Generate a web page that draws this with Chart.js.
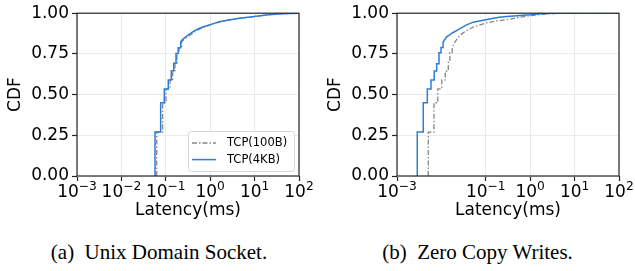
<!DOCTYPE html>
<html>
<head>
<meta charset="utf-8">
<script src="https://cdn.jsdelivr.net/npm/chart.js@4.4.0/dist/chart.umd.min.js"></script>
<style>
body{margin:0;background:#fff;width:635px;height:271px;overflow:hidden;position:relative;}
canvas{position:absolute;top:0;}
.cap{position:absolute;top:240px;font-family:"Liberation Serif",serif;font-size:21px;text-align:center;white-space:nowrap;}
</style>
</head>
<body>
<canvas id="c1" width="318" height="232" style="left:0"></canvas>
<canvas id="c2" width="315" height="232" style="left:320px"></canvas>
<div class="cap" style="left:0;width:318px">(a)&nbsp; Unix Domain Socket.</div>
<div class="cap" style="left:320px;width:315px">(b)&nbsp; Zero Copy Writes.</div>
<script>
// ticks
var yTicks = [0, 0.25, 0.5, 0.75, 1];
var xTickValues = [0.001, 0.01, 0.1, 1, 10, 100];
var xTickExponents = ['\u22123', '\u22122', '\u22121', '0', '1', '2'];
var xTicksUnix = [0.001, 0.01, 0.1, 1, 10, 100];
var xTicksZero = [0.001, 0.1, 1, 10, 100];
var seriesNames = ['TCP(100B)', 'TCP(4KB)'];

// (a) unix domain socket - step part then tail of the CDF (latency ms, cdf)
var unix100StepLat = [0.0624, 0.085, 0.101, 0.124, 0.143, 0.161, 0.179, 0.2, 0.228];
var unix100StepCdf = [0.27, 0.45, 0.535, 0.59, 0.647, 0.693, 0.753, 0.788, 0.824];
var unix100TailLat = [0.26, 0.29, 0.33, 0.42, 0.55, 0.75, 1.0, 1.7, 3, 5, 8, 10, 20, 40, 100];
var unix100TailCdf = [0.84, 0.85, 0.86, 0.88, 0.9, 0.915, 0.928, 0.948, 0.96, 0.97, 0.976, 0.98, 0.99, 0.997, 1.0];

var unix4kStepLat = [0.0571, 0.0767, 0.0925, 0.1137, 0.133, 0.151, 0.17, 0.19, 0.217];
var unix4kStepCdf = [0.27, 0.45, 0.535, 0.59, 0.647, 0.693, 0.753, 0.788, 0.824];
var unix4kTailLat = [0.24, 0.27, 0.295, 0.38, 0.5, 0.7, 1.0, 1.6, 2.8, 5, 7.9, 10, 20, 40, 100];
var unix4kTailCdf = [0.84, 0.85, 0.86, 0.88, 0.9, 0.917, 0.93, 0.948, 0.96, 0.97, 0.976, 0.98, 0.99, 0.997, 1.0];

// (b) zero copy writes
var zero100StepLat = [0.00507, 0.0068, 0.0083, 0.0102, 0.0122, 0.0143, 0.0155, 0.0175];
var zero100StepCdf = [0.27, 0.45, 0.535, 0.59, 0.645, 0.70, 0.757, 0.79];
var zero100TailLat = [0.0202, 0.0263, 0.035, 0.0525, 0.1, 0.18, 0.295, 0.5, 1.0, 1.7, 2.8, 5, 100];
var zero100TailCdf = [0.824, 0.865, 0.89, 0.915, 0.94, 0.953, 0.96, 0.972, 0.985, 0.992, 0.996, 1.0, 1.0];

var zero4kStepLat = [0.00286, 0.0039, 0.00482, 0.00583, 0.0069, 0.00783, 0.00883, 0.0098, 0.0109];
var zero4kStepCdf = [0.27, 0.45, 0.535, 0.59, 0.645, 0.69, 0.757, 0.79, 0.82];
var zero4kTailLat = [0.012, 0.0132, 0.018, 0.0263, 0.035, 0.052, 0.1, 0.2, 0.295, 0.5, 1.0, 1.66, 3, 100];
var zero4kTailCdf = [0.84, 0.855, 0.88, 0.905, 0.925, 0.945, 0.96, 0.975, 0.98, 0.985, 0.99, 0.997, 1.0, 1.0];

var GRAY = '#878787';
var BLUE = '#2e7dd5';
var FONT = 'DejaVu Sans';
var FSIZE = 17;

function cdfPoints(stepLat, stepCdf, tailLat, tailCdf){
	var pts = [];
	var prev = 0;
	for(var i = 0; i < stepLat.length; i++){
		pts.push({x: stepLat[i], y: prev});
		pts.push({x: stepLat[i], y: stepCdf[i]});
		prev = stepCdf[i];
	}
	for(var j = 0; j < tailLat.length; j++){
		pts.push({x: tailLat[j], y: tailCdf[j]});
	}
	return pts;
}

// frame round the plot area
var framePlugin = {
	id: 'frame',
	afterDatasetsDraw: function(chart){
		var a = chart.chartArea, ctx = chart.ctx;
		ctx.save();
		ctx.strokeStyle = '#262626';
		ctx.lineWidth = 1.2;
		ctx.strokeRect(a.left, a.top, a.right - a.left, a.bottom - a.top);
		ctx.restore();
	}
};

// 10^n labels under the log axis (base + raised exponent)
var powerLabels = {
	id: 'powerLabels',
	afterDraw: function(chart){
		var s = chart.scales.x, ctx = chart.ctx;
		var baseY = s.top + 21;
		ctx.save();
		ctx.fillStyle = '#000';
		ctx.textBaseline = 'alphabetic';
		ctx.textAlign = 'left';
		s.ticks.forEach(function(t){
			var exp = xTickExponents[xTickValues.indexOf(t.value)];
			var px = s.getPixelForValue(t.value);
			ctx.font = FSIZE + 'px "' + FONT + '"';
			var wb = ctx.measureText('10').width;
			ctx.font = (FSIZE * 0.72) + 'px "' + FONT + '"';
			var we = ctx.measureText(exp).width;
			var x0 = px - (wb + we) / 2;
			ctx.font = FSIZE + 'px "' + FONT + '"';
			ctx.fillText('10', x0, baseY);
			ctx.font = (FSIZE * 0.72) + 'px "' + FONT + '"';
			ctx.fillText(exp, x0 + wb, baseY - 7);
		});
		ctx.restore();
	}
};

// legend in the lower right corner
var legendPlugin = {
	id: 'boxLegend',
	afterDraw: function(chart){
		var a = chart.chartArea, ctx = chart.ctx;
		var w = 106, h = 40;
		var x = a.right - 5 - w, y = a.bottom - 5 - h;
		ctx.save();
		ctx.beginPath();
		ctx.roundRect(x + 0.5, y + 0.5, w, h, 3);
		ctx.fillStyle = 'rgba(255,255,255,0.85)';
		ctx.fill();
		ctx.strokeStyle = '#d4d4d4';
		ctx.lineWidth = 1;
		ctx.stroke();
		var styles = [
			{color: GRAY, dash: [5, 2, 1.5, 2], width: 1.3},
			{color: BLUE, dash: [], width: 1.5}
		];
		for(var i = 0; i < seriesNames.length; i++){
			var ly = y + 12 + i * 16.6;
			ctx.beginPath();
			ctx.setLineDash(styles[i].dash);
			ctx.strokeStyle = styles[i].color;
			ctx.lineWidth = styles[i].width;
			ctx.moveTo(x + 4, ly);
			ctx.lineTo(x + 28, ly);
			ctx.stroke();
			ctx.setLineDash([]);
			ctx.fillStyle = '#000';
			ctx.font = '11.5px "' + FONT + '"';
			ctx.textBaseline = 'middle';
			ctx.fillText(seriesNames[i], x + 39, ly + 0.5);
		}
		ctx.restore();
	}
};

function makeChart(id, xTicks, data100, data4k, rightPad, withLegend){
	var ctx = document.getElementById(id).getContext('2d');
	var plugins = [framePlugin, powerLabels];
	if(withLegend) plugins.push(legendPlugin);
	return new Chart(ctx, {
		type: 'scatter',
		data: {
			datasets: [{
				label: seriesNames[1],
				data: data4k,
				showLine: true,
				borderColor: BLUE,
				borderWidth: 1.5,
				pointRadius: 0,
				fill: false
			}, {
				label: seriesNames[0],
				data: data100,
				showLine: true,
				borderColor: GRAY,
				borderWidth: 1.3,
				borderDash: [5, 2, 1.5, 2],
				pointRadius: 0,
				fill: false
			}]
		},
		options: {
			responsive: false,
			animation: false,
			events: [],
			layout: {padding: {left: 0, top: 11, right: rightPad, bottom: 0}},
			plugins: {legend: {display: false}, tooltip: {enabled: false}},
			scales: {
				x: {
					type: 'logarithmic',
					min: 0.001,
					max: 100,
					afterBuildTicks: function(s){ s.ticks = xTicks.map(function(v){ return {value: v}; }); },
					afterFit: function(s){ s.height = 56; },
					ticks: {display: false},
					grid: {color: '#ebebeb', tickLength: 5, tickColor: '#222', tickWidth: 1.2},
					border: {display: false},
					title: {display: true, text: 'Latency(ms)', color: '#000', font: {family: FONT, size: FSIZE}, padding: {top: 0, bottom: 11}}
				},
				y: {
					min: 0,
					max: 1,
					afterBuildTicks: function(s){ s.ticks = yTicks.map(function(v){ return {value: v}; }); },
					afterFit: function(s){ s.width = 77; },
					ticks: {
						padding: 3,
						color: '#000',
						font: {family: FONT, size: FSIZE},
						callback: function(v){ return v.toFixed(2); }
					},
					grid: {color: '#ebebeb', tickLength: 5, tickColor: '#222', tickWidth: 1.2},
					border: {display: false},
					title: {display: true, text: 'CDF', color: '#000', font: {family: FONT, size: FSIZE}, padding: {top: 5, bottom: 0}}
				}
			}
		},
		plugins: plugins
	});
}

makeChart('c1', xTicksUnix,
	cdfPoints(unix100StepLat, unix100StepCdf, unix100TailLat, unix100TailCdf),
	cdfPoints(unix4kStepLat, unix4kStepCdf, unix4kTailLat, unix4kTailCdf), 19, true);
makeChart('c2', xTicksZero,
	cdfPoints(zero100StepLat, zero100StepCdf, zero100TailLat, zero100TailCdf),
	cdfPoints(zero4kStepLat, zero4kStepCdf, zero4kTailLat, zero4kTailCdf), 16, false);
</script>
</body>
</html>
